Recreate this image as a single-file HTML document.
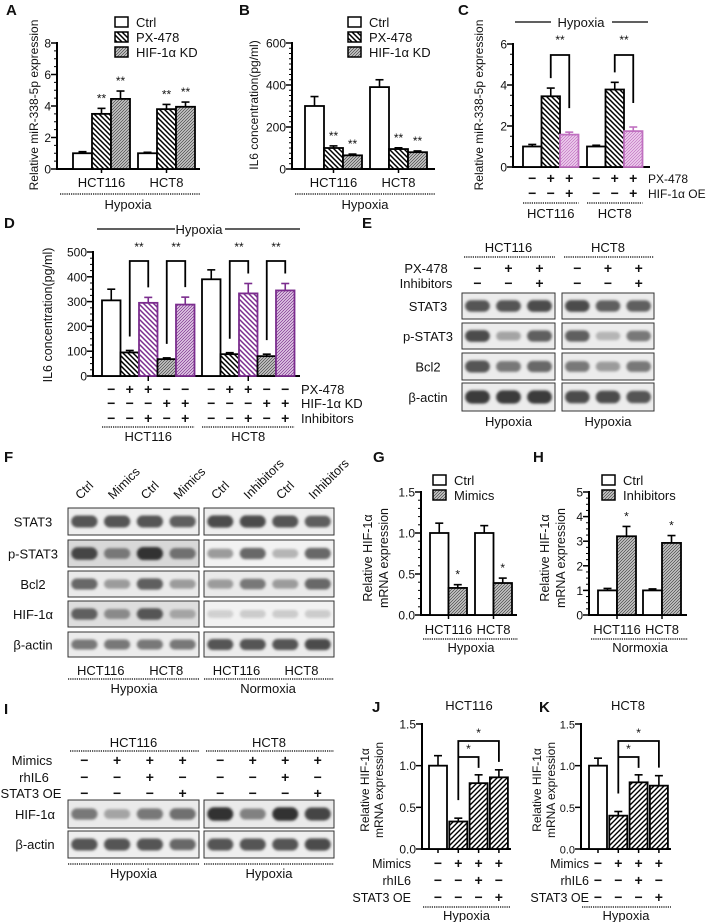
<!DOCTYPE html>
<html><head><meta charset="utf-8">
<style>
html,body{margin:0;padding:0;background:#fff;}
svg{display:block;font-family:"Liberation Sans",Arial,sans-serif;}
text{fill:#111;}
</style></head>
<body>
<svg id="fig" width="711" height="922" viewBox="0 0 711 922" xmlns="http://www.w3.org/2000/svg">
<defs>
<pattern id="hB" patternUnits="userSpaceOnUse" width="5" height="5"><rect width="5" height="5" fill="#fff"/><path d="M-1,-1L6,6M-1,4L1,6M4,-1L6,1" stroke="#000" stroke-width="1.5"/></pattern>
<pattern id="hG" patternUnits="userSpaceOnUse" width="3" height="3"><rect width="3" height="3" fill="#c9c9c9"/><path d="M-1,1L1,-1M0,3L3,0M2,4L4,2" stroke="#444" stroke-width="0.7"/></pattern>
<pattern id="hBP" patternUnits="userSpaceOnUse" width="5" height="5"><rect width="5" height="5" fill="#fff"/><path d="M-1,-1L6,6M-1,4L1,6M4,-1L6,1" stroke="#7b2d8e" stroke-width="1.5"/></pattern>
<pattern id="hGP" patternUnits="userSpaceOnUse" width="3" height="3"><rect width="3" height="3" fill="#e2cde6"/><path d="M-1,1L1,-1M0,3L3,0M2,4L4,2" stroke="#7b2d8e" stroke-width="0.7"/></pattern>
<pattern id="hPK" patternUnits="userSpaceOnUse" width="3" height="3"><rect width="3" height="3" fill="#eed0ee"/><path d="M-1,1L1,-1M0,3L3,0M2,4L4,2" stroke="#c070c0" stroke-width="0.7"/></pattern>
<pattern id="hF" patternUnits="userSpaceOnUse" width="5" height="5"><rect width="5" height="5" fill="#fff"/><path d="M-1,1L1,-1M0,5L5,0M4,6L6,4" stroke="#000" stroke-width="1.4"/></pattern>
<filter id="blur" x="-20%" y="-50%" width="140%" height="200%"><feGaussianBlur stdDeviation="1.3"/></filter>
</defs>
<g id="root"></g>
</svg>
<script>
// ===== DATA =====
const groups2 = ['HCT116', 'HCT8'];
// A
const aCtrl = [1.0, 1.0], aCtrlErr = [0.1, 0.06];
const aPX = [3.5, 3.8], aPXErr = [0.35, 0.3];
const aKD = [4.45, 3.95], aKDErr = [0.5, 0.3];
const aTicks = [0, 2, 4, 6, 8];
// B
const bCtrl = [300, 390], bCtrlErr = [45, 35];
const bPX = [100, 95], bPXErr = [10, 6];
const bKD = [65, 80], bKDErr = [6, 6];
const bTicks = [0, 200, 400, 600];
// C
const cCtrl = [1.0, 1.0], cCtrlErr = [0.1, 0.06];
const cPX = [3.45, 3.78], cPXErr = [0.4, 0.35];
const cOE = [1.58, 1.75], cOEErr = [0.12, 0.2];
const cTicks = [0, 2, 4, 6];
const cRowPX = ['−', '+', '+'], cRowOE = ['−', '−', '+'];
// D
const dCtrl = [305, 390], dCtrlErr = [45, 38];
const dPX = [95, 88], dPXErr = [8, 6];
const dPXInh = [295, 333], dPXInhErr = [22, 40];
const dKD = [68, 80], dKDErr = [5, 8];
const dKDInh = [288, 345], dKDInhErr = [30, 28];
const dTicks = [0, 100, 200, 300, 400, 500];
const dRowPX = ['−', '+', '+', '−', '−'], dRowKD = ['−', '−', '−', '+', '+'], dRowInh = ['−', '−', '+', '−', '+'];
// G
const gCtrl = [1.0, 1.0], gCtrlErr = [0.12, 0.09];
const gMim = [0.33, 0.39], gMimErr = [0.04, 0.06];
const gTicks = [0, 0.5, 1.0, 1.5];
// H
const hCtrl = [1.0, 1.0], hCtrlErr = [0.08, 0.06];
const hInh = [3.2, 2.93], hInhErr = [0.4, 0.3];
const hTicks = [0, 1, 2, 3, 4, 5];
// J, K
const jVals = [1.0, 0.33, 0.79, 0.86], jErr = [0.12, 0.04, 0.1, 0.09];
const kVals = [1.0, 0.4, 0.8, 0.76], kErr = [0.09, 0.05, 0.09, 0.12];
const jkTicks = [0, 0.5, 1.0, 1.5];
const jkMimics = ['−', '+', '+', '+'], jkIL6 = ['−', '−', '+', '−'], jkSTAT = ['−', '−', '−', '+'];
// Blots (band intensity 0..1)
const eSTAT3 = [[0.8, 0.8, 0.85], [0.85, 0.75, 0.75]];
const ePSTAT3 = [[0.85, 0.35, 0.75], [0.75, 0.25, 0.6]];
const eBcl2 = [[0.8, 0.6, 0.7], [0.6, 0.4, 0.6]];
const eActin = [[0.95, 0.95, 0.95], [0.85, 0.85, 0.8]];
const fSTAT3 = [[0.8, 0.8, 0.8, 0.75], [0.85, 0.85, 0.8, 0.75]];
const fPSTAT3 = [[0.9, 0.6, 1.0, 0.65], [0.4, 0.7, 0.25, 0.7]];
const fBcl2 = [[0.7, 0.4, 0.75, 0.4], [0.4, 0.6, 0.4, 0.7]];
const fHIF = [[0.75, 0.5, 0.8, 0.35], [0.1, 0.12, 0.12, 0.12]];
const fActin = [[0.6, 0.6, 0.6, 0.6], [0.8, 0.8, 0.8, 0.85]];
const iHIF = [[0.6, 0.35, 0.6, 0.65], [1.0, 0.55, 1.0, 0.9]];
const iActin = [[0.8, 0.8, 0.8, 0.7], [0.8, 0.8, 0.8, 0.85]];

// ===== HELPERS =====
const NS = 'http://www.w3.org/2000/svg';
const root = document.getElementById('root');
function add(tag, attrs, name, parent) {
  const e = document.createElementNS(NS, tag);
  for (const k in attrs) e.setAttribute(k, attrs[k]);
  
  
  (parent || root).appendChild(e);
  return e;
}
function txt(x, y, s, name, opt) {
  opt = opt || {};
  const a = {x: x, y: y, 'font-size': opt.fs || 12, 'text-anchor': opt.anchor || 'middle'};
  if (opt.bold) a['font-weight'] = 'bold';
  if (opt.rot) a.transform = 'rotate(' + opt.rot + ' ' + x + ' ' + y + ')';
  if (opt.fill) a.fill = opt.fill;
  const t = add('text', a, name);
  t.textContent = s;
  return t;
}
function line(x1, y1, x2, y2, name, sw, col, dash) {
  const a = {x1: x1, y1: y1, x2: x2, y2: y2, stroke: col || '#000', 'stroke-width': sw || 1};
  if (dash) a['stroke-dasharray'] = dash;
  return add('line', a, name);
}
function dotted(x1, x2, y, name) { return line(x1, y, x2, y, name, 1.3, '#000', '1.2,1'); }
function yS(p, v) { return p.yb - v / p.max * (p.yb - p.yt); }
function bx(p, g, s) { return p.gx + g * p.gs + s * (p.bw + (p.gap || 0)); }
function bc(p, g, s) { return bx(p, g, s) + p.bw / 2; }
function axes(p, ticks, fmt, prefix) {
  line(p.x0, p.yb, p.x0, p.yt - 1, prefix + '-y-axis', 2);
  line(p.x0 - 1, p.yb, p.x1, p.yb, prefix + '-x-axis', 2);
  if (p.minor) {
    for (let v = 0; v <= p.max + 1e-9; v += p.minor) line(p.x0 - 3, yS(p, v), p.x0, yS(p, v), prefix + '-minor-tick', 1);
  }
  ticks.forEach(v => {
    line(p.x0 - 6, yS(p, v), p.x0, yS(p, v), prefix + '-major-tick', 1.5);
    txt(p.x0 - 6, yS(p, v) + 4.5, fmt(v), prefix + '-tick-label', {anchor: 'end', fs: p.tfs || 12});
  });
}
function bars(p, vals, errs, fill, stroke, prefix, s) {
  vals.forEach((v, g) => {
    const x = bx(p, g, s), top = yS(p, v), et = yS(p, v + errs[g]), c = x + p.bw / 2;
    line(c, top, c, et, prefix + '-error-bar', 1.6, stroke);
    line(c - 4, et, c + 4, et, prefix + '-error-cap', 1.6, stroke);
    add('rect', {x: x, y: top, width: p.bw, height: p.yb - top, fill: fill, stroke: stroke, 'stroke-width': 1.8}, prefix + '-bar');
  });
}
function star(p, x, v, e, s, name) { txt(x, yS(p, v + e) - 6, s, name, {fs: 12}); }
function bracket(x1, x2, yTop, yL, yR, name, col) {
  add('path', {d: 'M' + x1 + ',' + yL + 'V' + yTop + 'H' + x2 + 'V' + yR, fill: 'none', stroke: col || '#000', 'stroke-width': 1.8}, name);
}
function legend(x, y, fill, label, name) {
  add('rect', {x: x, y: y - 5, width: 13, height: 10, fill: fill, stroke: '#000', 'stroke-width': 1.5}, name + '-swatch');
  txt(x + 21, y + 5, label, name + '-label', {anchor: 'start', fs: 13});
}
function blot(x, y, w, h, data, name, bg) {
  add('rect', {x: x, y: y, width: w, height: h, fill: bg || '#ececec', stroke: '#333', 'stroke-width': 1}, name + '-frame');
  const lw = w / data.length;
  data.forEach((v, i) => {
    const g = Math.round(225 - 175 * v);
    const bh = h * (0.28 + 0.2 * v);
    add('rect', {x: x + i * lw + lw * 0.1, y: y + h / 2 - bh / 2, width: lw * 0.8, height: bh, rx: bh / 2,
      fill: 'rgb(' + g + ',' + g + ',' + g + ')', filter: 'url(#blur)'}, name + '-band');
  });
}
const fi = v => String(v), f1 = v => v.toFixed(1);

// ===== PANEL LETTERS =====
[['A', 6, 15], ['B', 239, 15], ['C', 458, 15], ['D', 4, 228], ['E', 362, 228], ['F', 4, 462], ['G', 373, 462], ['H', 533, 462], ['I', 4, 714], ['J', 372, 712], ['K', 539, 712]]
  .forEach(l => txt(l[1], l[2], l[0], 'panel-label-' + l[0].toLowerCase(), {anchor: 'start', fs: 15, bold: true}));

// ===== A =====
const pA = {x0: 57, x1: 200, yb: 169, yt: 43, max: 8, minor: 0.5, gx: 73, gs: 65, bw: 19};
axes(pA, aTicks, fi, 'a');
bars(pA, aCtrl, aCtrlErr, '#fff', '#000', 'a-ctrl', 0);
bars(pA, aPX, aPXErr, 'url(#hB)', '#000', 'a-px478', 1);
bars(pA, aKD, aKDErr, 'url(#hG)', '#000', 'a-hif-kd', 2);
[0, 1].forEach(g => { star(pA, bc(pA, g, 1), aPX[g], aPXErr[g], '**', 'a-sig'); star(pA, bc(pA, g, 2), aKD[g], aKDErr[g], '**', 'a-sig');
  line(bc(pA, g, 1), pA.yb, bc(pA, g, 1), pA.yb + 4, 'a-x-tick', 1.5); txt(bc(pA, g, 1), 187, groups2[g], 'a-category-label', {fs: 13}); });
txt(38, 105, 'Relative miR-338-5p expression', 'a-y-axis-title', {rot: -90, fs: 12});
legend(115, 22, '#fff', 'Ctrl', 'a-legend-ctrl'); legend(115, 37, 'url(#hB)', 'PX-478', 'a-legend-px478'); legend(115, 52, 'url(#hG)', 'HIF-1α KD', 'a-legend-hif-kd');
dotted(60, 200, 194, 'a-group-divider'); txt(128, 209, 'Hypoxia', 'a-condition-label', {fs: 13});

// ===== B =====
const pB = {x0: 292, x1: 435, yb: 169, yt: 43, max: 600, minor: 25, gx: 305, gs: 65, bw: 19};
axes(pB, bTicks, fi, 'b');
bars(pB, bCtrl, bCtrlErr, '#fff', '#000', 'b-ctrl', 0);
bars(pB, bPX, bPXErr, 'url(#hB)', '#000', 'b-px478', 1);
bars(pB, bKD, bKDErr, 'url(#hG)', '#000', 'b-hif-kd', 2);
[0, 1].forEach(g => { star(pB, bc(pB, g, 1), bPX[g], bPXErr[g], '**', 'b-sig'); star(pB, bc(pB, g, 2), bKD[g], bKDErr[g], '**', 'b-sig');
  line(bc(pB, g, 1), pB.yb, bc(pB, g, 1), pB.yb + 4, 'b-x-tick', 1.5); txt(bc(pB, g, 1), 187, groups2[g], 'b-category-label', {fs: 13}); });
txt(258, 105, 'IL6 concentration(pg/ml)', 'b-y-axis-title', {rot: -90, fs: 12});
legend(348, 22, '#fff', 'Ctrl', 'b-legend-ctrl'); legend(348, 37, 'url(#hB)', 'PX-478', 'b-legend-px478'); legend(348, 52, 'url(#hG)', 'HIF-1α KD', 'b-legend-hif-kd');
dotted(295, 435, 194, 'b-group-divider'); txt(365, 209, 'Hypoxia', 'b-condition-label', {fs: 13});

// ===== C =====
const pC = {x0: 513, x1: 650, yb: 167, yt: 44, max: 6, minor: 0.5, gx: 523, gs: 64, bw: 18.5};
axes(pC, cTicks, fi, 'c');
bars(pC, cCtrl, cCtrlErr, '#fff', '#000', 'c-ctrl', 0);
bars(pC, cPX, cPXErr, 'url(#hB)', '#000', 'c-px478', 1);
bars(pC, cOE, cOEErr, 'url(#hPK)', '#c070c0', 'c-hif-oe', 2);
[0, 1].forEach(g => {
  const x1 = bc(pC, g, 1), x2 = bc(pC, g, 2);
  bracket(x1, x2, 55, yS(pC, cPX[g] + cPXErr[g]) - 10, yS(pC, cOE[g] + cOEErr[g]) - 24, 'c-sig-bracket');
  txt((x1 + x2) / 2, 44, '**', 'c-sig', {fs: 12});
  [0, 1, 2].forEach(s => { txt(bc(pC, g, s), 183, cRowPX[s], 'c-px478-sign', {fs: 14, bold: true}); txt(bc(pC, g, s), 198, cRowOE[s], 'c-oe-sign', {fs: 14, bold: true}); });
  dotted(bx(pC, g, 0), bx(pC, g, 2) + pC.bw, 203, 'c-group-divider');
  txt(bc(pC, g, 1), 218, groups2[g], 'c-category-label', {fs: 13});
});
txt(483, 105, 'Relative miR-338-5p expression', 'c-y-axis-title', {rot: -90, fs: 12});
line(515, 22, 551, 22, 'c-hypoxia-line', 1.2); line(612, 22, 648, 22, 'c-hypoxia-line', 1.2);
txt(581, 27, 'Hypoxia', 'c-hypoxia-label', {fs: 13});
txt(648, 183, 'PX-478', 'c-row-label-px478', {anchor: 'start', fs: 12}); txt(648, 198, 'HIF-1α OE', 'c-row-label-oe', {anchor: 'start', fs: 12});

// ===== D =====
const pD = {x0: 93, x1: 300, yb: 376, yt: 252, max: 500, minor: 25, gx: 102, gs: 100, bw: 18.5};
axes(pD, dTicks, fi, 'd');
bars(pD, dCtrl, dCtrlErr, '#fff', '#000', 'd-ctrl', 0);
bars(pD, dPX, dPXErr, 'url(#hB)', '#000', 'd-px478', 1);
bars(pD, dPXInh, dPXInhErr, 'url(#hBP)', '#7b2d8e', 'd-px478-inhibitors', 2);
bars(pD, dKD, dKDErr, 'url(#hG)', '#000', 'd-hif-kd', 3);
bars(pD, dKDInh, dKDInhErr, 'url(#hGP)', '#7b2d8e', 'd-hif-kd-inhibitors', 4);
[0, 1].forEach(g => {
  [[1, 2, dPX, dPXErr, dPXInh, dPXInhErr], [3, 4, dKD, dKDErr, dKDInh, dKDInhErr]].forEach(b => {
    const x1 = bc(pD, g, b[0]), x2 = bc(pD, g, b[1]);
    bracket(x1, x2, 261, yS(pD, b[2][g] + b[3][g]) - 14, yS(pD, b[4][g] + b[5][g]) - 10, 'd-sig-bracket');
    txt((x1 + x2) / 2, 251, '**', 'd-sig', {fs: 12});
  });
  [0, 1, 2, 3, 4].forEach(s => {
    txt(bc(pD, g, s), 394, dRowPX[s], 'd-px478-sign', {fs: 14, bold: true});
    txt(bc(pD, g, s), 408, dRowKD[s], 'd-kd-sign', {fs: 14, bold: true});
    txt(bc(pD, g, s), 423, dRowInh[s], 'd-inhibitors-sign', {fs: 14, bold: true});
  });
  line(bc(pD, g, 2), pD.yb, bc(pD, g, 2), pD.yb + 5, 'd-x-tick', 1.5);
  dotted(bx(pD, g, 0), bx(pD, g, 4) + pD.bw, 427, 'd-group-divider');
  txt(bc(pD, g, 2), 441, groups2[g], 'd-category-label', {fs: 13});
});
txt(52, 315, 'IL6 concentration(pg/ml)', 'd-y-axis-title', {rot: -90, fs: 12.5});
line(97, 229, 175, 229, 'd-hypoxia-line', 1.2); line(225, 229, 300, 229, 'd-hypoxia-line', 1.2);
txt(199, 234, 'Hypoxia', 'd-hypoxia-label', {fs: 13});
txt(301, 394, 'PX-478', 'd-row-label-px478', {anchor: 'start', fs: 13});
txt(301, 408, 'HIF-1α KD', 'd-row-label-kd', {anchor: 'start', fs: 13});
txt(301, 423, 'Inhibitors', 'd-row-label-inhibitors', {anchor: 'start', fs: 13});

// ===== E =====
const eBoxes = [[462, 93], [562, 92]];
const eRows = [['STAT3', 293, 26, eSTAT3], ['p-STAT3', 323, 26, ePSTAT3], ['Bcl2', 353, 27, eBcl2], ['β-actin', 383, 28, eActin]];
eBoxes.forEach((b, k) => {
  txt(b[0] + b[1] / 2, 252, groups2[k], 'e-cell-line-label', {fs: 13});
  dotted(b[0] + 2, b[0] + b[1], 257, 'e-group-divider');
  const lw = b[1] / 3;
  ['−', '+', '+'].forEach((s, i) => txt(b[0] + lw * (i + 0.5), 273, s, 'e-px478-sign', {fs: 14, bold: true}));
  ['−', '−', '+'].forEach((s, i) => txt(b[0] + lw * (i + 0.5), 288, s, 'e-inhibitors-sign', {fs: 14, bold: true}));
  eRows.forEach(r => blot(b[0], r[1], b[1], r[2], r[3][k], 'e-blot-' + r[0].toLowerCase()));
  txt(b[0] + b[1] / 2, 426, 'Hypoxia', 'e-condition-label', {fs: 13});
});
eRows.forEach(r => txt(428, r[1] + r[2] / 2 + 5, r[0], 'e-row-label', {fs: 13}));
txt(426, 273, 'PX-478', 'e-row-label-px478', {fs: 13}); txt(426, 288, 'Inhibitors', 'e-row-label-inhibitors', {fs: 13});

// ===== F =====
const fBoxes = [[68, 131], [204, 130]];
const fRows = [['STAT3', 508, 27, fSTAT3, '#eee'], ['p-STAT3', 540, 27, fPSTAT3, null], ['Bcl2', 571, 26, fBcl2, '#eaeaea'], ['HIF-1α', 601, 26, fHIF, null], ['β-actin', 632, 25, fActin, '#ececec']];
const fLanes = [['Ctrl', 'Mimics', 'Ctrl', 'Mimics'], ['Ctrl', 'Inhibitors', 'Ctrl', 'Inhibitors']];
fBoxes.forEach((b, k) => {
  const lw = b[1] / 4;
  fLanes[k].forEach((s, i) => txt(b[0] + lw * (i + 0.5) - 4, 500, s, 'f-lane-label', {anchor: 'start', rot: -45, fs: 12.5}));
  fRows.forEach((r, ri) => blot(b[0], r[1], b[1], r[2], r[3][k], 'f-blot-' + r[0].toLowerCase(), r[4] || (k === 0 ? (ri === 1 ? '#d8d8d8' : '#dedede') : '#f2f2f2')));
  txt(b[0] + lw, 675, 'HCT116', 'f-cell-line-label', {fs: 13}); txt(b[0] + lw * 3, 675, 'HCT8', 'f-cell-line-label', {fs: 13});
  dotted(b[0], b[0] + b[1], 679, 'f-group-divider');
});
txt(134, 693, 'Hypoxia', 'f-condition-label', {fs: 13}); txt(268, 693, 'Normoxia', 'f-condition-label', {fs: 13});
fRows.forEach(r => txt(33, r[1] + r[2] / 2 + 5, r[0], 'f-row-label', {fs: 13}));

// ===== G =====
const pG = {x0: 421, x1: 517, yb: 615, yt: 492, max: 1.5, minor: 0.1, gx: 430, gs: 45, bw: 18.5};
axes(pG, gTicks, f1, 'g');
bars(pG, gCtrl, gCtrlErr, '#fff', '#000', 'g-ctrl', 0);
bars(pG, gMim, gMimErr, 'url(#hG)', '#000', 'g-mimics', 1);
[0, 1].forEach(g => { star(pG, bc(pG, g, 1), gMim[g], gMimErr[g], '*', 'g-sig');
  line(bx(pG, g, 1), pG.yb, bx(pG, g, 1), pG.yb + 4, 'g-x-tick', 1.5); txt(bx(pG, g, 1), 634, groups2[g], 'g-category-label', {fs: 13}); });
legend(433, 480, '#fff', 'Ctrl', 'g-legend-ctrl'); legend(433, 495, 'url(#hG)', 'Mimics', 'g-legend-mimics');
txt(372, 558, 'Relative HIF-1α', 'g-y-axis-title', {rot: -90, fs: 12.5}); txt(388, 558, 'mRNA expression', 'g-y-axis-title-2', {rot: -90, fs: 12.5});
dotted(423, 518, 639, 'g-group-divider'); txt(471, 652, 'Hypoxia', 'g-condition-label', {fs: 13});

// ===== H =====
const pH = {x0: 589, x1: 687, yb: 615, yt: 492, max: 5, minor: 0.25, gx: 598, gs: 45, bw: 19};
axes(pH, hTicks, fi, 'h');
bars(pH, hCtrl, hCtrlErr, '#fff', '#000', 'h-ctrl', 0);
bars(pH, hInh, hInhErr, 'url(#hG)', '#000', 'h-inhibitors', 1);
[0, 1].forEach(g => { star(pH, bc(pH, g, 1), hInh[g], hInhErr[g], '*', 'h-sig');
  line(bx(pH, g, 1), pH.yb, bx(pH, g, 1), pH.yb + 4, 'h-x-tick', 1.5); txt(bx(pH, g, 1), 634, groups2[g], 'h-category-label', {fs: 13}); });
legend(602, 480, '#fff', 'Ctrl', 'h-legend-ctrl'); legend(602, 495, 'url(#hG)', 'Inhibitors', 'h-legend-inhibitors');
txt(549, 558, 'Relative HIF-1α', 'h-y-axis-title', {rot: -90, fs: 12.5}); txt(565, 558, 'mRNA expression', 'h-y-axis-title-2', {rot: -90, fs: 12.5});
dotted(591, 688, 639, 'h-group-divider'); txt(640, 652, 'Normoxia', 'h-condition-label', {fs: 13});

// ===== I =====
const iBoxes = [[68, 131], [204, 130]];
iBoxes.forEach((b, k) => {
  const lw = b[1] / 4;
  txt(b[0] + b[1] / 2, 747, groups2[k], 'i-cell-line-label', {fs: 13});
  dotted(b[0] + 2, b[0] + b[1], 751, 'i-group-divider');
  jkMimics.forEach((s, i) => txt(b[0] + lw * (i + 0.5), 765, s, 'i-mimics-sign', {fs: 14, bold: true}));
  jkIL6.forEach((s, i) => txt(b[0] + lw * (i + 0.5), 782, s, 'i-rhil6-sign', {fs: 14, bold: true}));
  jkSTAT.forEach((s, i) => txt(b[0] + lw * (i + 0.5), 798, s, 'i-stat3-oe-sign', {fs: 14, bold: true}));
  blot(b[0], 800, b[1], 28, iHIF[k], 'i-blot-hif', '#eaeaea');
  blot(b[0], 831, b[1], 27, iActin[k], 'i-blot-actin', '#eeeeee');
  dotted(b[0], b[0] + b[1], 864, 'i-group-divider-bottom');
  txt(b[0] + b[1] / 2, 878, 'Hypoxia', 'i-condition-label', {fs: 13});
});
txt(32, 765, 'Mimics', 'i-row-label-mimics', {fs: 13}); txt(34, 782, 'rhIL6', 'i-row-label-rhil6', {fs: 13}); txt(31, 798, 'STAT3 OE', 'i-row-label-stat3', {fs: 13});
txt(35, 819, 'HIF-1α', 'i-row-label-hif', {fs: 13}); txt(35, 849, 'β-actin', 'i-row-label-actin', {fs: 13});

// ===== J / K =====
function jk(p, vals, errs, pre, title, ylx, lblEnd) {
  axes(p, jkTicks, f1, pre);
  vals.forEach((v, i) => {
    const x = bx(p, 0, i), c = x + p.bw / 2, top = yS(p, v), et = yS(p, v + errs[i]);
    line(c, top, c, et, pre + '-error-bar', 1.6);
    line(c - 4, et, c + 4, et, pre + '-error-cap', 1.6);
    add('rect', {x: x, y: top, width: p.bw, height: p.yb - top, fill: i === 0 ? '#fff' : 'url(#hF)', stroke: '#000', 'stroke-width': 1.8}, pre + '-bar');
    line(c, p.yb, c, p.yb + 4, pre + '-x-tick', 1.5);
    txt(c, 868, jkMimics[i], pre + '-mimics-sign', {fs: 14, bold: true});
    txt(c, 885, jkIL6[i], pre + '-rhil6-sign', {fs: 14, bold: true});
    txt(c, 902, jkSTAT[i], pre + '-stat3-oe-sign', {fs: 14, bold: true});
  });
  const c1 = bc(p, 0, 1), c2 = bc(p, 0, 2), c3 = bc(p, 0, 3);
  bracket(c1, c3, 741, yS(p, vals[1] + errs[1]) - 18, yS(p, vals[3] + errs[3]) - 8, pre + '-sig-bracket-outer');
  bracket(c1, c2, 757, 757, yS(p, vals[2] + errs[2]) - 7, pre + '-sig-bracket-inner');
  txt((c1 + c3) / 2, 737, '*', pre + '-sig', {fs: 12}); txt((c1 + c2) / 2, 753, '*', pre + '-sig', {fs: 12});
  txt(p.x0 + 47, 710, title, pre + '-title', {fs: 13});
  txt(ylx, 790, 'Relative HIF-1α', pre + '-y-axis-title', {rot: -90, fs: 12});
  txt(ylx + 14, 790, 'mRNA expression', pre + '-y-axis-title-2', {rot: -90, fs: 12});
  txt(lblEnd, 868, 'Mimics', pre + '-row-label-mimics', {anchor: 'end', fs: 12.5});
  txt(lblEnd, 885, 'rhIL6', pre + '-row-label-rhil6', {anchor: 'end', fs: 12.5});
  txt(lblEnd, 902, 'STAT3 OE', pre + '-row-label-stat3', {anchor: 'end', fs: 12.5});
  dotted(p.x0 + 1, p.x1, 907, pre + '-group-divider');
  txt((p.x0 + p.x1) / 2, 920, 'Hypoxia', pre + '-condition-label', {fs: 13});
}
jk({x0: 422, x1: 511, yb: 849, yt: 724, max: 1.5, gx: 429, gs: 0, bw: 18, gap: 2.3, tfs: 12}, jVals, jErr, 'j', 'HCT116', 369, 411);
jk({x0: 581, x1: 671, yb: 849, yt: 724, max: 1.5, gx: 589, gs: 0, bw: 18, gap: 2.3, tfs: 11}, kVals, kErr, 'k', 'HCT8', 541, 589);
</script>
</body></html>
